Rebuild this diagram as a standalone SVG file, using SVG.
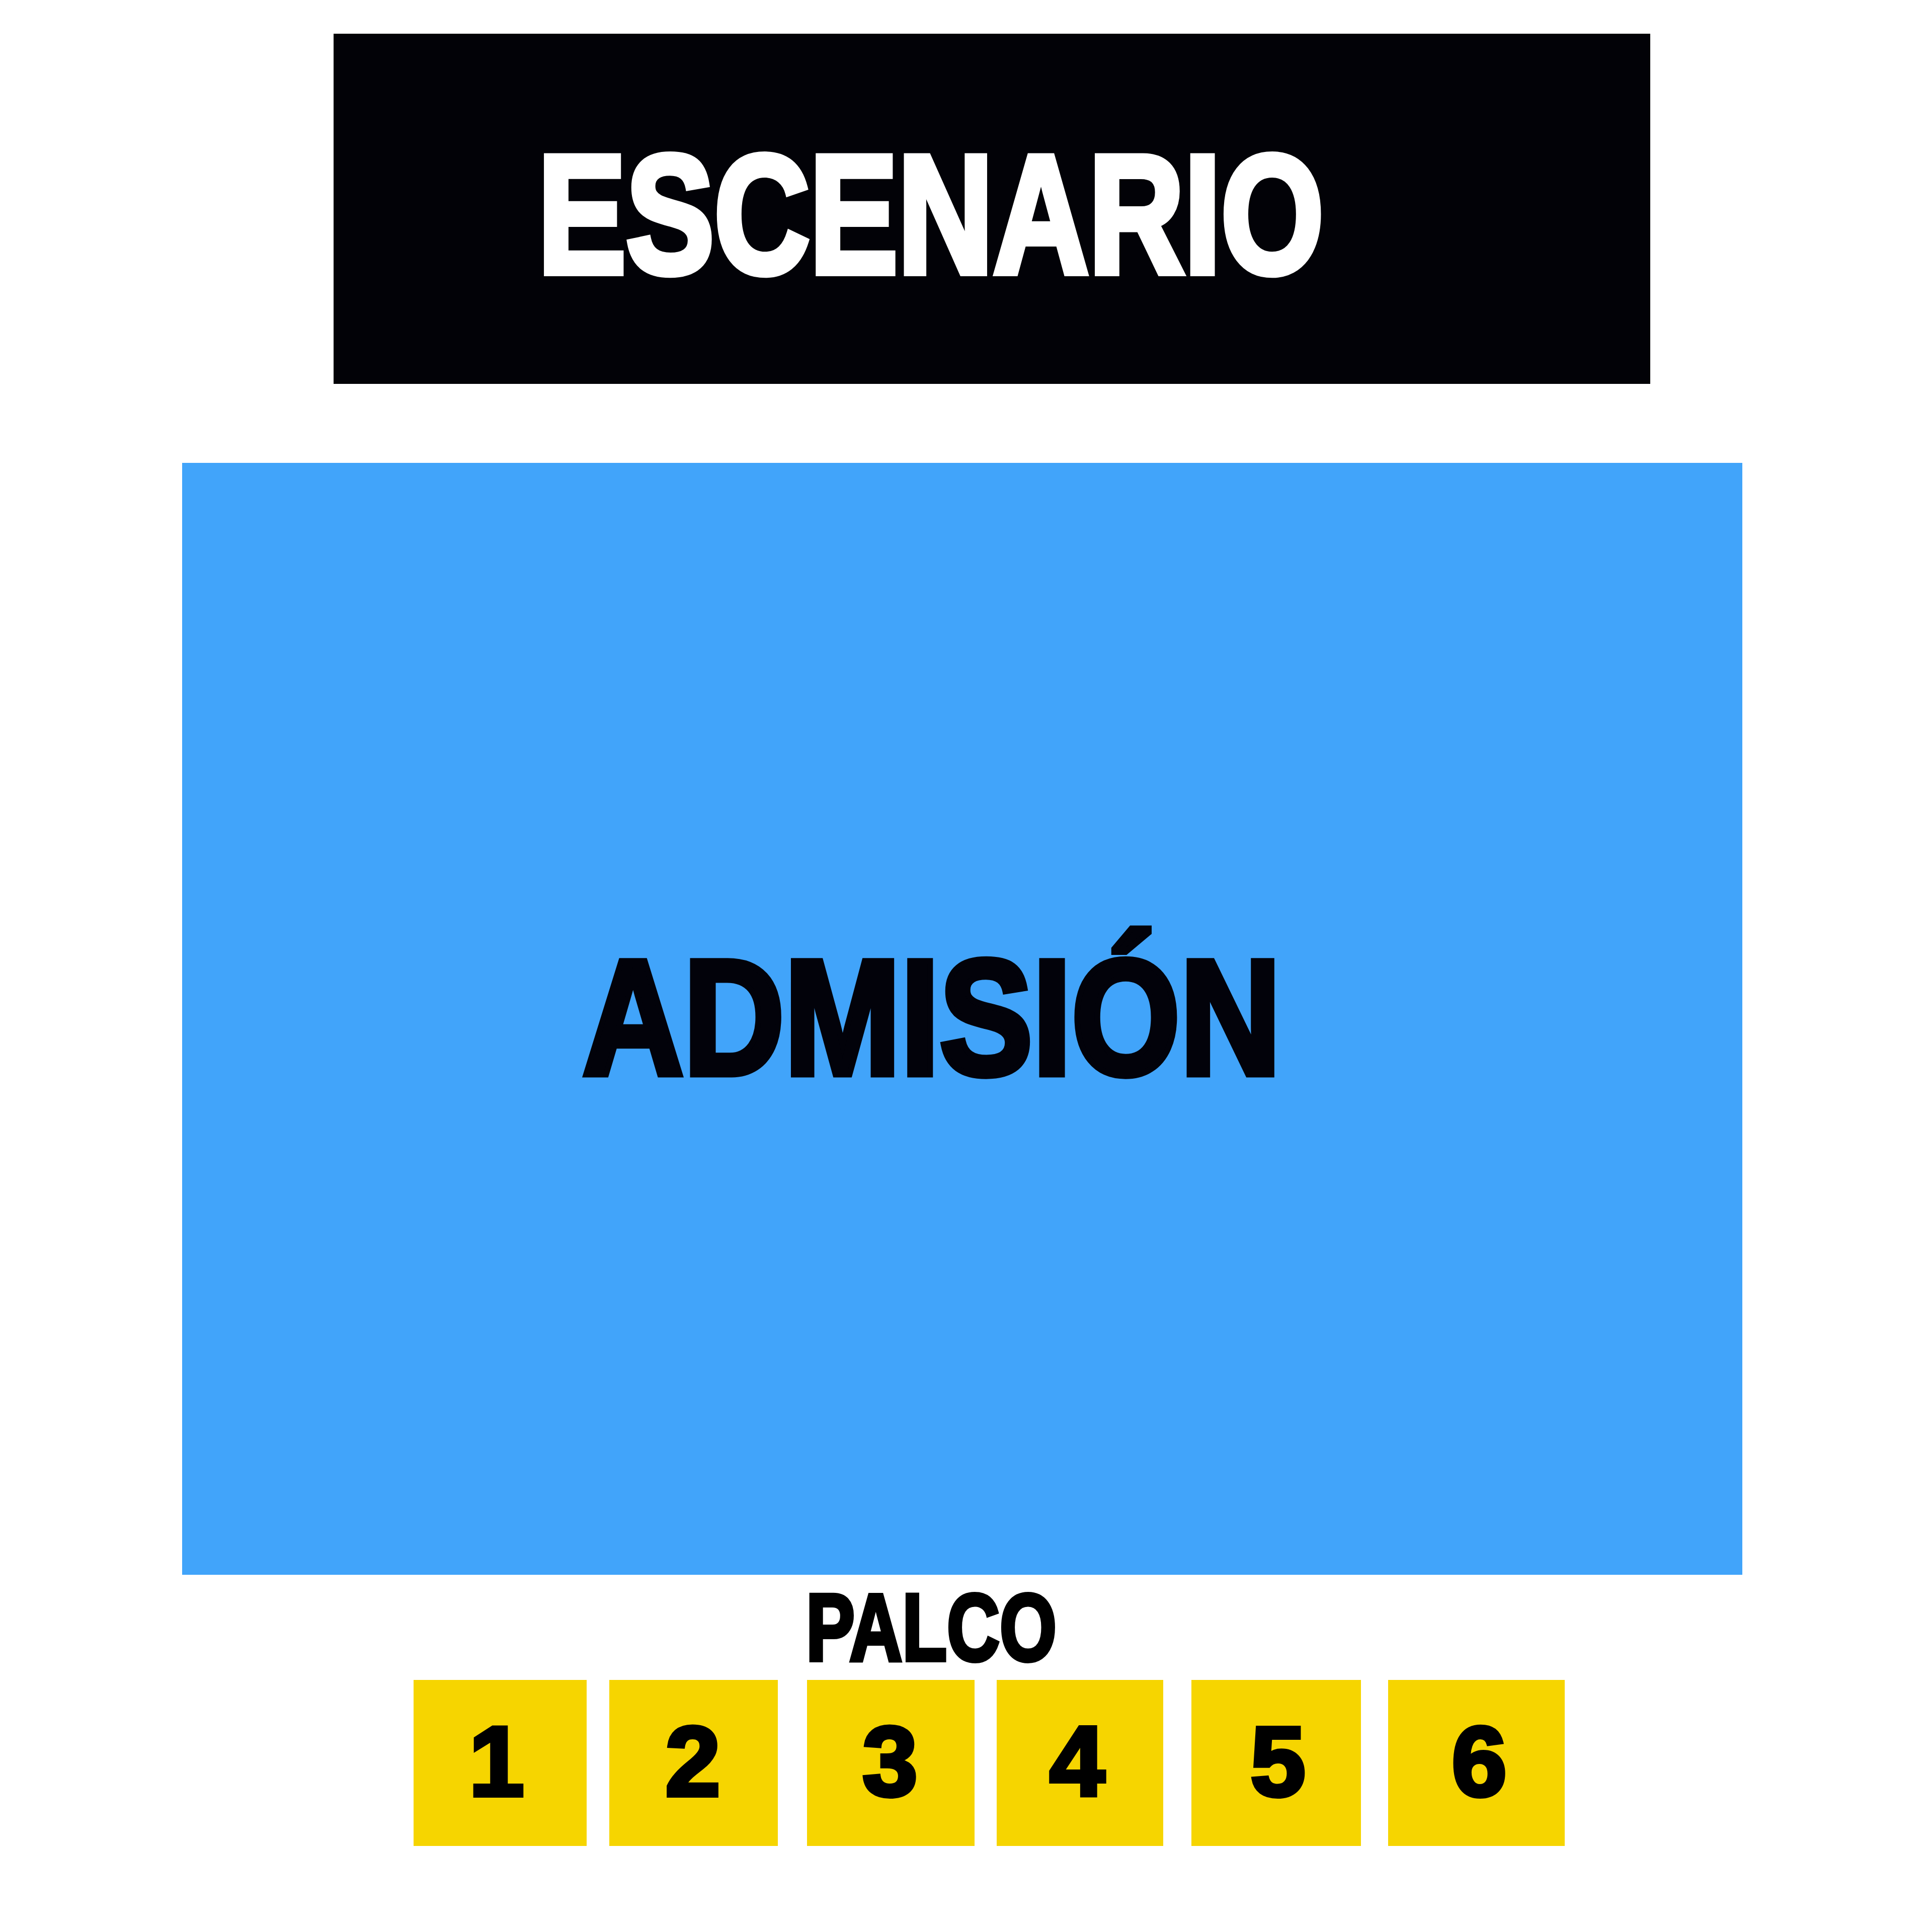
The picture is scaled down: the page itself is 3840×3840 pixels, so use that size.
<svg xmlns="http://www.w3.org/2000/svg" width="3840" height="3840" viewBox="0 0 3840 3840">
  <style>
    .lbl { font-family: "Liberation Sans Narrow", "Liberation Sans", Arial, sans-serif; font-weight: bold; }
    .box { fill: #F6D500; }
    .num { font-size: 197px; fill: #000000; stroke: #000000; stroke-width: 8px; text-anchor: middle; }
  </style>
  <rect x="0" y="0" width="3840" height="3840" fill="#FFFFFF"/>
  <g id="escenario">
    <rect x="663" y="67" width="2617" height="696" fill="#020207"/>
    <text class="lbl" x="1069" y="542" font-size="335" fill="#FFFFFF" stroke="#FFFFFF" stroke-width="14" textLength="1562" lengthAdjust="spacingAndGlyphs">ESCENARIO</text>
  </g>
  <g id="admision">
    <rect x="362" y="920" width="3101" height="2210" fill="#41A4FA"/>
    <text class="lbl" x="1158" y="2135" font-size="326" fill="#02020A" stroke="#02020A" stroke-width="13" textLength="1388" lengthAdjust="spacingAndGlyphs">ADMISIÓN</text>
  </g>
  <g id="palco-label">
    <text class="lbl" x="1602" y="3300" font-size="190" fill="#000000" stroke="#000000" stroke-width="8" textLength="498" lengthAdjust="spacingAndGlyphs">PALCO</text>
  </g>
  <g id="palco-1">
    <rect class="box" x="822" y="3339" width="344" height="330"/>
    <text class="lbl num" x="987" y="3569">1</text>
  </g>
  <g id="palco-2">
    <rect class="box" x="1211" y="3339" width="335" height="330"/>
    <text class="lbl num" x="1377" y="3569">2</text>
  </g>
  <g id="palco-3">
    <rect class="box" x="1604" y="3339" width="333" height="330"/>
    <text class="lbl num" x="1769" y="3569">3</text>
  </g>
  <g id="palco-4">
    <rect class="box" x="1981" y="3339" width="331" height="330"/>
    <text class="lbl num" x="2141" y="3569">4</text>
  </g>
  <g id="palco-5">
    <rect class="box" x="2368" y="3339" width="337" height="330"/>
    <text class="lbl num" x="2540" y="3569">5</text>
  </g>
  <g id="palco-6">
    <rect class="box" x="2759" y="3339" width="351" height="330"/>
    <text class="lbl num" x="2940" y="3569">6</text>
  </g>
  <g id="connectors"/>
</svg>
